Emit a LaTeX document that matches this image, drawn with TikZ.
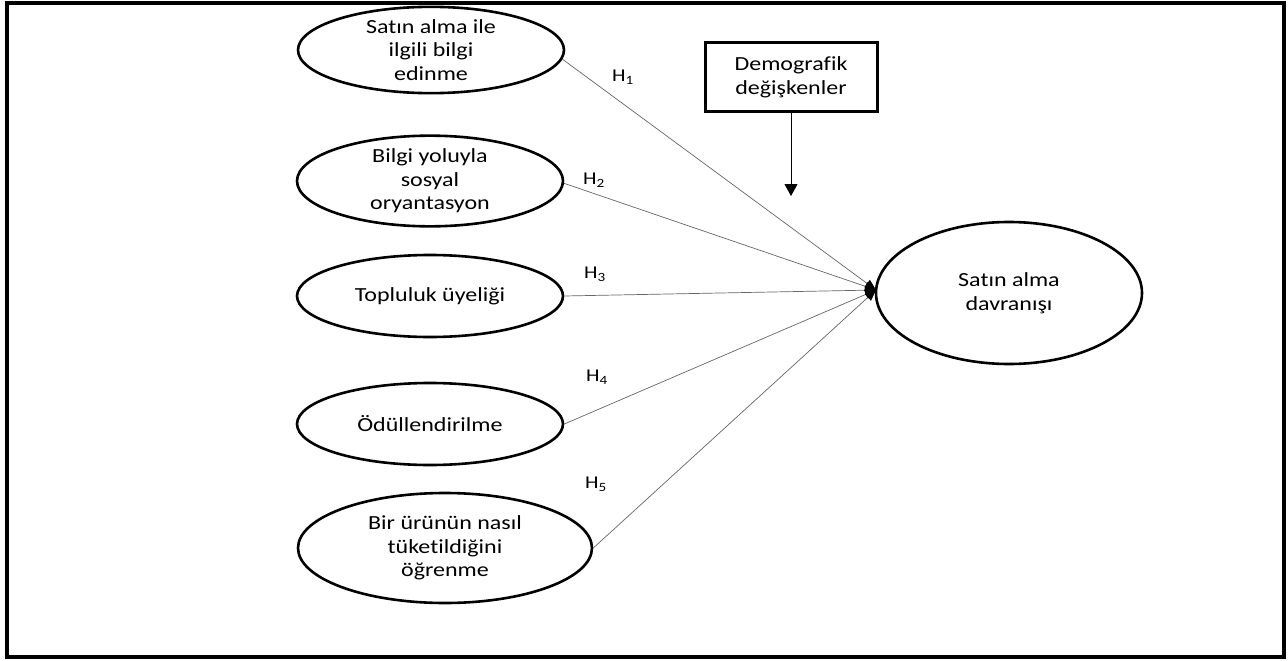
\documentclass[tikz,border=0pt]{standalone}
\usepackage{fontspec}
\setmainfont{Carlito}[FakeStretch=1.2,Ligatures=NoCommon]
\usetikzlibrary{shapes.geometric,arrows.meta}
\begin{document}
\begin{tikzpicture}[x=1pt,y=-1pt,
  oval/.style={ellipse,draw=black,line width=2.6pt,inner sep=0pt,align=center,font=\fontsize{20}{23.5}\selectfont},
  hyp/.style={draw=black!60,line width=0.7pt,-{Triangle[length=11pt,width=9pt,black]}},
  hlab/.style={font=\fontsize{18}{20}\selectfont,inner sep=0pt},
  demo/.style={draw=black,line width=3pt,align=center,font=\fontsize{20}{24}\selectfont,minimum width=172pt,minimum height=68pt,inner sep=0pt}]
\useasboundingbox (0,0) rectangle (1288,661);
\fill[white] (0,0) rectangle (1288,661);
\draw[line width=4.5pt] (7,3) rectangle (1284,657);
\node[oval,minimum width=266pt,minimum height=84pt] (e1) at (431,50) {Satın alma ile\\ilgili bilgi\\edinme};
\node[oval,minimum width=266pt,minimum height=88pt] (e2) at (430,181) {Bilgi yoluyla\\sosyal\\oryantasyon};
\node[oval,minimum width=266pt,minimum height=82pt] (e3) at (430,296) {Topluluk üyeliği};
\node[oval,minimum width=266pt,minimum height=82pt] (e4) at (430,424) {Ödüllendirilme};
\node[oval,minimum width=294pt,minimum height=110pt] (e5) at (445,548) {Bir ürünün nasıl\\tüketildiğini\\öğrenme};
\node[oval,minimum width=266pt,minimum height=142pt] (t) at (1009,293) {Satın alma\\davranışı};
\node[demo] (d) at (791,77) {Demografik\\değişkenler};
\coordinate (tip) at (876,290);
\coordinate (dend) at (791,196);
\draw[hyp] (e1.-4) -- (tip);
\draw[hyp] (e2.-1) -- (tip);
\draw[hyp] (e3.east) -- (tip);
\draw[hyp] (e4.east) -- (tip);
\draw[hyp] (e5.east) -- (tip);
\draw[line width=1pt,-{Triangle[length=12pt,width=13pt]}] (d.south) -- (dend);
\node[hlab] (h1) at (623,77) {H\textsubscript{1}};
\node[hlab] (h2) at (594,180) {H\textsubscript{2}};
\node[hlab] (h3) at (595,274) {H\textsubscript{3}};
\node[hlab] (h4) at (597,377) {H\textsubscript{4}};
\node[hlab] (h5) at (596,484) {H\textsubscript{5}};
\end{tikzpicture}
\end{document}
